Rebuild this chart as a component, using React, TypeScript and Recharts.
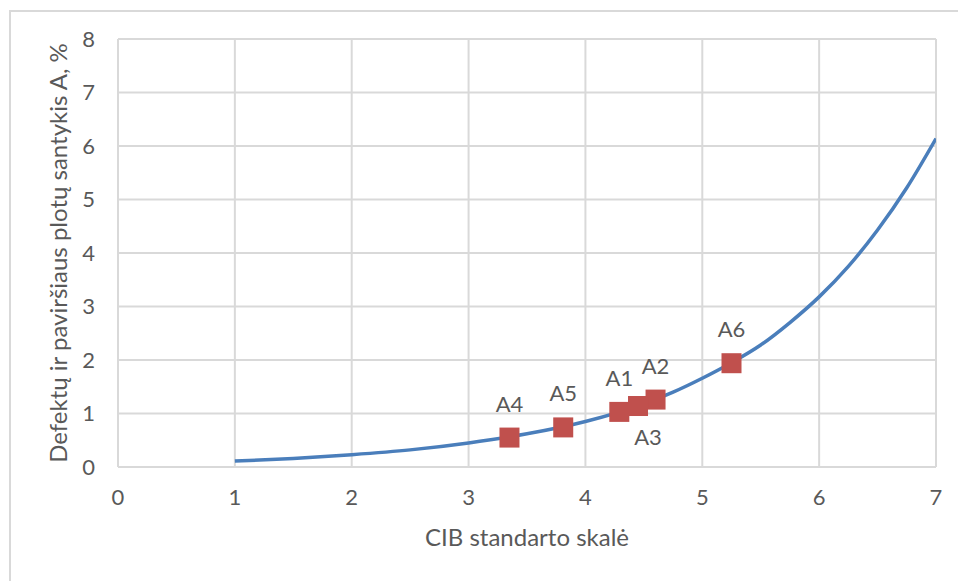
import React from 'react'
import {
  ComposedChart,
  Line,
  Scatter,
  XAxis,
  YAxis,
  CartesianGrid,
  Label,
} from 'recharts'

// trend curve
const curveX = [1, 1.5, 2, 2.5, 3, 3.5, 4, 4.5, 4.75, 5, 5.25, 5.5, 5.75, 6, 6.25, 6.5, 6.75, 7]
const curveY = [0.11, 0.16, 0.23, 0.32, 0.45, 0.62, 0.85, 1.18, 1.4, 1.66, 1.95, 2.28, 2.7, 3.18, 3.75, 4.43, 5.22, 6.14]

// measured samples
const sampleNames = ['A1', 'A2', 'A3', 'A4', 'A5', 'A6']
const sampleX = [4.29, 4.6, 4.45, 3.35, 3.81, 5.25]
const sampleY = [1.03, 1.26, 1.14, 0.55, 0.74, 1.94]
const labelsBelow = ['A3']

const xTicks = [0, 1, 2, 3, 4, 5, 6, 7]
const yTicks = [0, 1, 2, 3, 4, 5, 6, 7, 8]

const FONT = 'Lato, "Open Sans", sans-serif'
const TEXT = '#595959'
const GRID = '#d9d9d9'

const curve = curveX.map((x, i) => ({ x, y: curveY[i] }))
const samples = sampleNames.map((name, i) => ({ name, x: sampleX[i], y: sampleY[i] }))

function SquareMarker(props: any) {
  const { cx, cy, payload } = props
  if (cx == null || cy == null) return null
  const below = labelsBelow.includes(payload.name)
  return (
    <g>
      <rect x={cx - 10} y={cy - 10} width={20} height={20} fill="#c0504d" />
      <text
        x={cx + (below ? 10 : 0)}
        y={below ? cy + 39 : cy - 26}
        textAnchor="middle"
        fill={TEXT}
        fontSize={22}
        fontFamily={FONT}
      >
        {payload.name}
      </text>
    </g>
  )
}

export default function App() {
  return (
    <div style={{ position: 'fixed', left: 0, top: 0, width: 958, height: 581, background: '#fff', overflow: 'hidden' }}>
      <div
        style={{
          position: 'absolute',
          left: 9,
          top: 10,
          width: 1000,
          height: 700,
          border: `2px solid ${GRID}`,
          boxSizing: 'border-box',
        }}
      />
      <div style={{ position: 'absolute', left: 0, top: 0 }}>
        <ComposedChart width={958} height={581} margin={{ top: 39, right: 22, bottom: 40, left: 8 }}>
          <CartesianGrid stroke={GRID} strokeWidth={2} />
          <XAxis
            type="number"
            dataKey="x"
            domain={[0, 7]}
            ticks={xTicks}
            allowDataOverflow
            axisLine={false}
            tickLine={false}
            tickSize={0}
            tickMargin={22}
            height={74}
            tick={{ fill: TEXT, fontSize: 22, fontFamily: FONT }}
          >
            <Label
              value="CIB standarto skalė"
              position="insideBottom"
              offset={-5}
              fill={TEXT}
              fontSize={24}
              fontFamily={FONT}
            />
          </XAxis>
          <YAxis
            type="number"
            dataKey="y"
            domain={[0, 8]}
            ticks={yTicks}
            allowDataOverflow
            axisLine={false}
            tickLine={false}
            tickSize={0}
            tickMargin={23}
            width={110}
            tick={{ fill: TEXT, fontSize: 22, fontFamily: FONT }}
          >
            <Label
              value="Defektų ir paviršiaus plotų santykis A, %"
              angle={-90}
              position="insideLeft"
              offset={50}
              style={{ textAnchor: 'middle' }}
              fill={TEXT}
              fontSize={24}
              fontFamily={FONT}
            />
          </YAxis>
          <Line
            data={curve}
            dataKey="y"
            type="monotone"
            stroke="#4a7ebb"
            strokeWidth={3.5}
            dot={false}
            activeDot={false}
            isAnimationActive={false}
          />
          <Scatter data={samples} dataKey="y" shape={SquareMarker} isAnimationActive={false} />
        </ComposedChart>
      </div>
    </div>
  )
}
